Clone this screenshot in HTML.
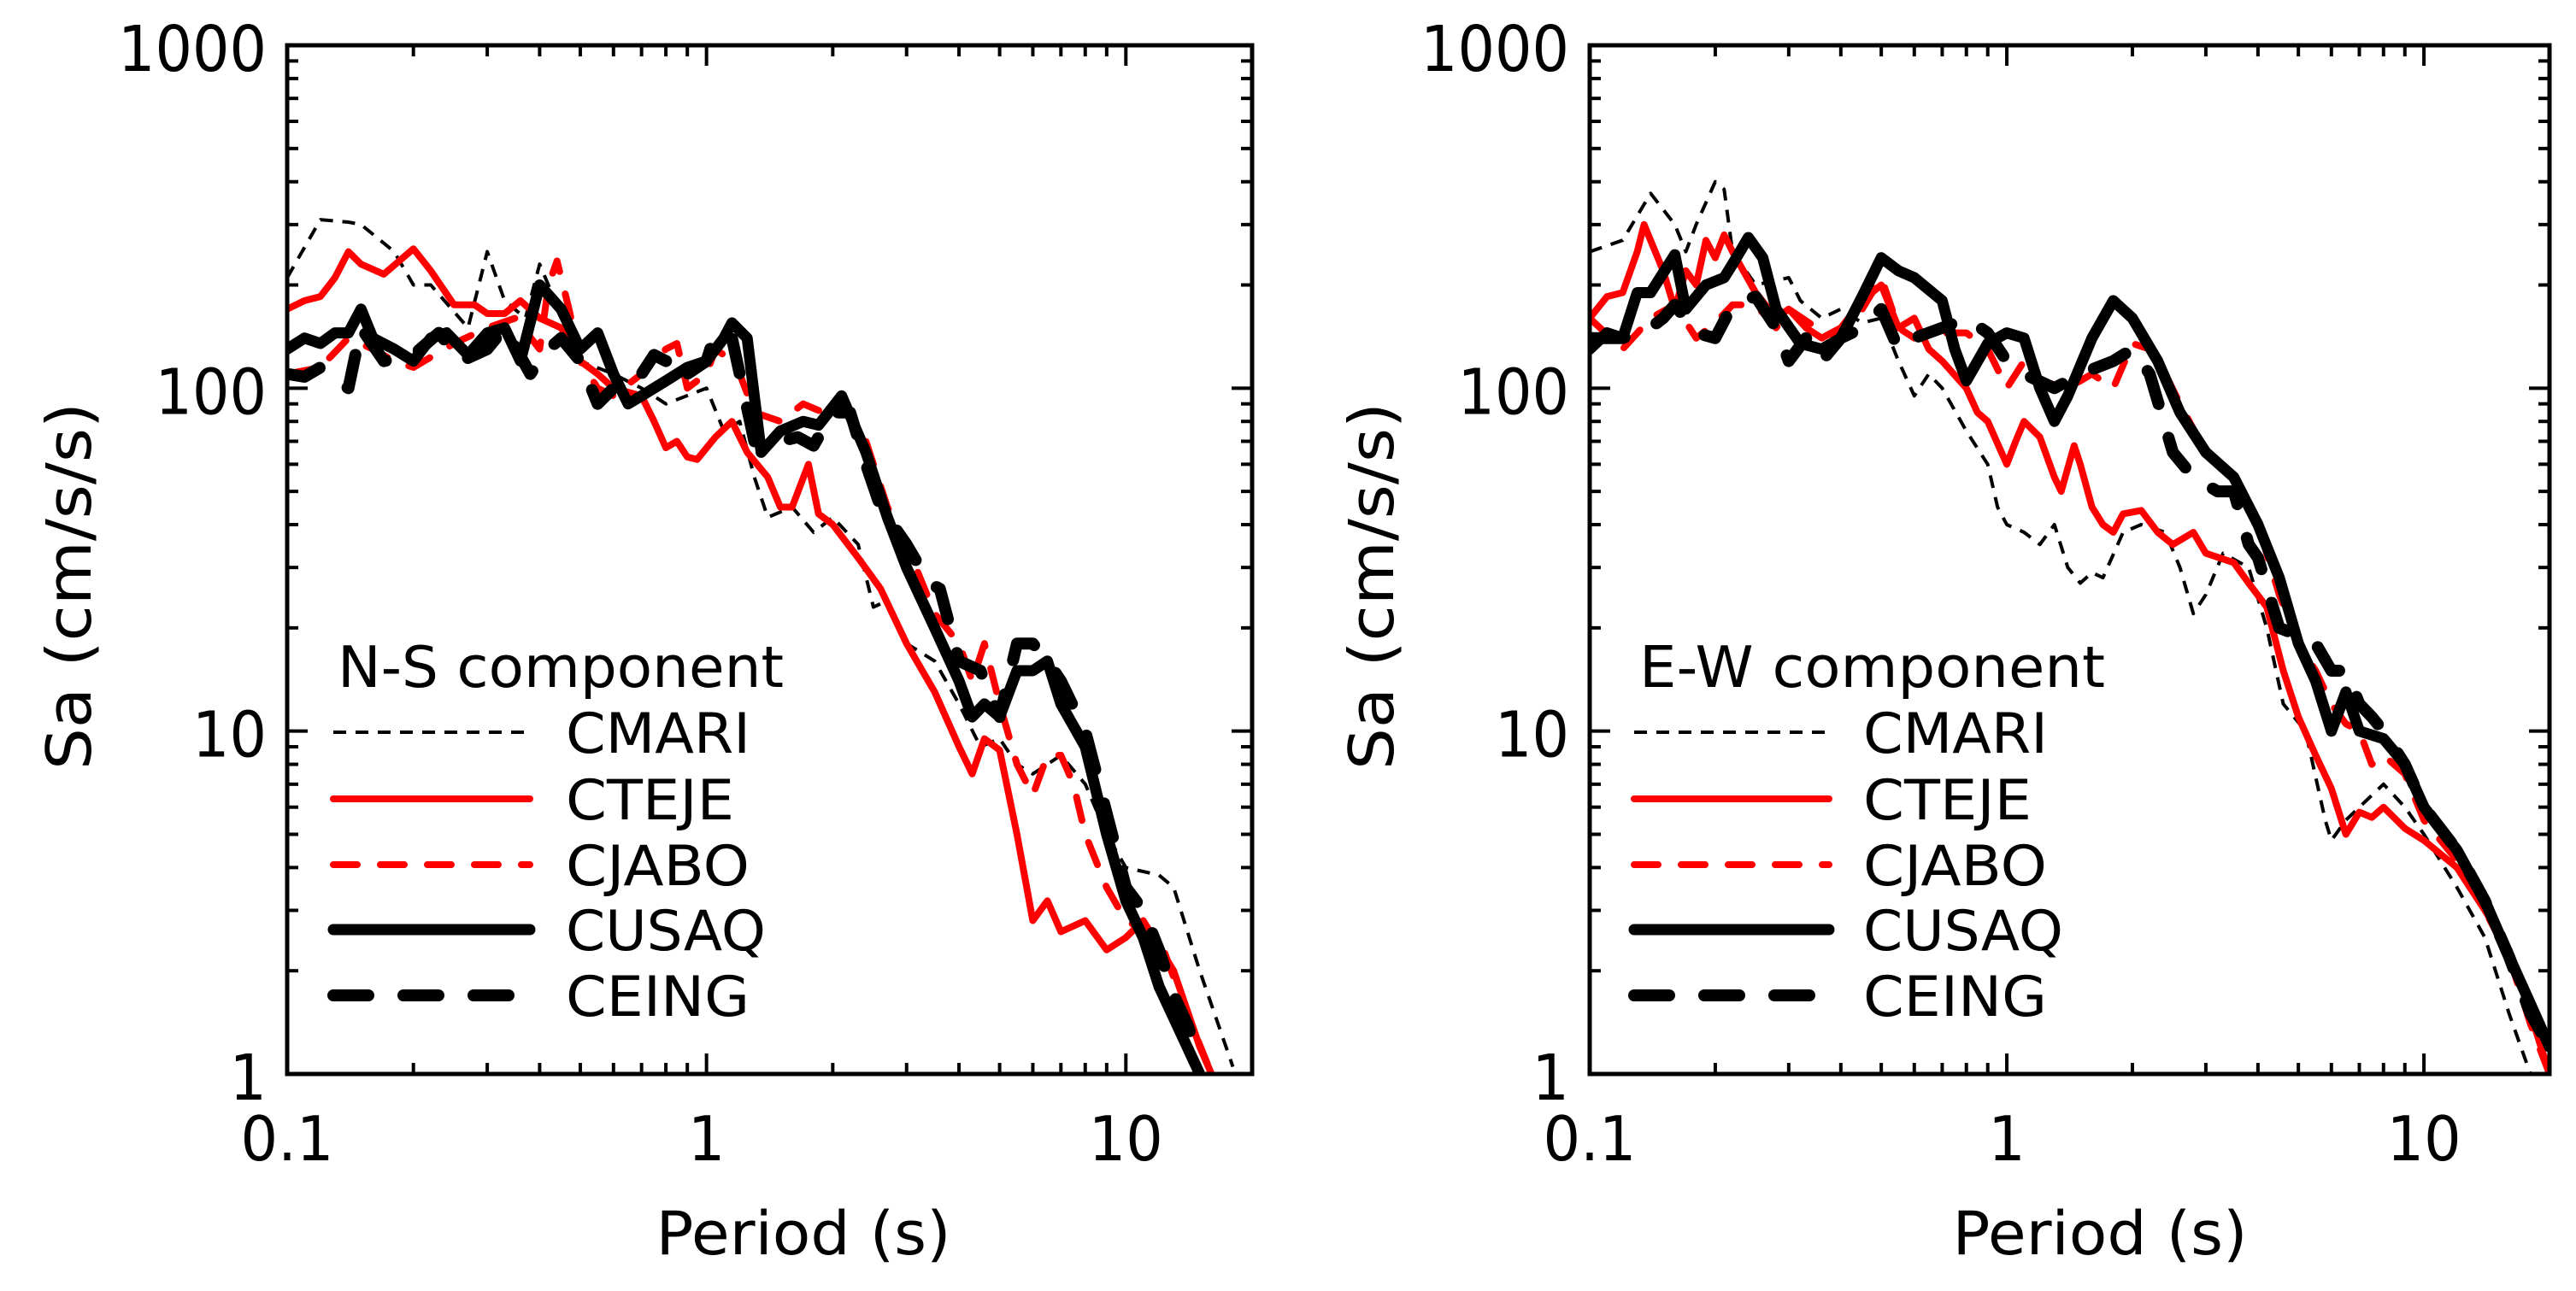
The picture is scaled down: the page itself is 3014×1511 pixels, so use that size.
<!DOCTYPE html>
<html><head><meta charset="utf-8"><style>
html,body{margin:0;padding:0;background:#fff}
svg{display:block}
text{font-family:"DejaVu Sans","Liberation Sans",sans-serif;fill:#000}
</style></head><body>
<svg id="chart" width="3014" height="1511" viewBox="0 0 3014 1511" xmlns="http://www.w3.org/2000/svg"></svg>
<script>
const xTickLabels = ["0.1","1","10"];
const yTickLabels = ["1","10","100","1000"];
const seriesNames = ["CMARI","CTEJE","CJABO","CUSAQ","CEING"];

const nsCMARI_T = [0.1,0.12,0.14,0.15,0.18,0.2,0.22,0.27,0.3,0.33,0.37,0.4,0.5,0.6,0.7,0.8,1.0,1.1,1.2,1.3,1.4,1.6,1.8,2.0,2.3,2.5,2.7,3.0,3.5,4,4.5,5,5.5,6,7,8,9,10,12,13,15,18];
const nsCMARI_V = [210,310,305,300,250,200,200,150,250,180,160,230,120,110,100,90,100,75,80,55,42,45,38,42,35,23,24,18,16,12,9,9.5,8,7.5,8.5,7,5,4,3.8,3.5,2,1.05];
const nsCTEJE_T = [0.1,0.11,0.12,0.13,0.14,0.15,0.17,0.2,0.22,0.25,0.28,0.3,0.33,0.36,0.4,0.45,0.5,0.55,0.6,0.7,0.75,0.8,0.85,0.9,0.95,1.05,1.15,1.25,1.4,1.5,1.6,1.75,1.85,2.0,2.3,2.6,3.0,3.5,4.0,4.3,4.6,5.0,5.5,6.0,6.5,7,8,9,10,11,13,15,16];
const nsCTEJE_V = [170,180,185,210,250,230,215,255,220,175,175,165,165,180,160,150,120,110,100,95,80,67,70,63,62,72,80,65,55,45,45,60,43,40,32,26,18,13,9,7.5,9.5,8.8,5,2.8,3.2,2.6,2.8,2.3,2.5,2.8,2,1.2,1.0];
const nsCJABO_T = [0.1,0.12,0.14,0.16,0.18,0.2,0.25,0.3,0.35,0.4,0.42,0.44,0.47,0.5,0.55,0.6,0.7,0.8,0.85,0.9,1.0,1.05,1.1,1.2,1.3,1.5,1.7,1.9,2.1,2.4,2.7,3.0,3.5,4,4.3,4.6,5,5.5,6,6.5,7,7.5,8,9,10,12,14,16];
const nsCJABO_V = [110,115,140,130,120,115,135,150,160,130,200,235,170,120,100,95,110,130,135,100,110,130,125,110,85,80,90,85,90,70,45,35,22,18,14,18,12,8,6.5,8.5,8.5,7,5,3.5,2.8,2.5,1.5,1.0];
const nsCUSAQ_T = [0.1,0.11,0.12,0.13,0.14,0.15,0.16,0.18,0.2,0.22,0.24,0.27,0.3,0.33,0.36,0.4,0.45,0.5,0.55,0.6,0.65,0.7,0.8,0.9,1.0,1.1,1.15,1.25,1.35,1.5,1.7,1.85,2.1,2.4,2.7,3.0,3.5,4,4.3,4.6,5,5.5,6,6.5,7,8,9,10,11,12,14,15];
const nsCUSAQ_V = [130,140,135,145,145,170,140,130,120,140,145,125,145,150,120,200,170,130,145,110,90,95,105,115,120,140,155,140,65,75,80,78,95,65,42,30,20,14,11,12,11,15,15,16,12,9,5,3.2,2.5,1.8,1.2,1.0];
const nsCEING_T = [0.1,0.11,0.12,0.13,0.14,0.15,0.17,0.2,0.23,0.26,0.3,0.33,0.38,0.42,0.45,0.5,0.55,0.6,0.7,0.75,0.8,0.85,0.9,1.0,1.05,1.15,1.3,1.5,1.65,1.8,2.0,2.2,2.4,2.6,3,3.4,3.6,4,4.5,5,5.5,6,6.5,7,8,10,11,12,13,14,15];
const nsCEING_V = [110,108,115,105,100,150,120,125,145,120,130,150,110,130,140,120,90,100,110,125,120,125,110,120,145,140,70,70,72,68,85,85,60,45,35,27,26,16,15,11,18,18,16,14,10,3.5,3,2.3,1.7,1.4,1.1];

const ewCMARI_T = [0.1,0.12,0.14,0.16,0.17,0.18,0.2,0.21,0.22,0.25,0.3,0.32,0.36,0.4,0.45,0.5,0.55,0.6,0.65,0.7,0.8,0.9,0.95,1.0,1.1,1.2,1.3,1.4,1.5,1.6,1.7,1.9,2.1,2.4,2.6,2.8,3.0,3.3,3.8,4.2,4.6,5.2,5.8,6,6.5,7,8,9,10,12,14,16,18];
const ewCMARI_V = [250,270,370,300,250,300,400,380,250,200,210,180,160,170,155,160,120,95,110,100,75,60,45,40,38,35,40,30,27,29,28,38,40,38,30,22,25,33,30,20,12,10,5.5,4.8,5.5,6,7,6,5,3.5,2.5,1.5,1.0];
const ewCTEJE_T = [0.1,0.11,0.12,0.13,0.135,0.15,0.16,0.17,0.18,0.19,0.2,0.21,0.22,0.25,0.28,0.3,0.33,0.36,0.4,0.45,0.5,0.55,0.6,0.65,0.7,0.8,0.85,0.9,1.0,1.05,1.1,1.2,1.3,1.35,1.45,1.5,1.6,1.7,1.8,1.9,2.1,2.3,2.5,2.8,3.0,3.5,3.8,4.2,4.6,5,5.5,6,6.5,7,7.5,8,9,10,12,14,16,18,20];
const ewCTEJE_V = [160,185,190,250,300,220,170,220,200,270,240,280,250,190,160,170,150,140,150,180,200,150,160,130,120,100,85,80,60,70,80,72,55,50,68,60,45,40,38,43,44,38,35,38,33,31,27,23,15,11,8.5,6.8,5.0,5.8,5.6,6.0,5.2,4.8,4.0,3.0,2.3,1.5,1.0];
const ewCJABO_T = [0.1,0.12,0.14,0.16,0.18,0.2,0.22,0.25,0.28,0.3,0.35,0.4,0.45,0.5,0.55,0.6,0.7,0.8,0.9,1.0,1.1,1.2,1.4,1.6,1.8,2.0,2.2,2.4,2.6,3.0,3.5,4,4.5,5,5.5,6,6.5,7,7.5,8,9,10,12,14,16,18,20];
const ewCJABO_V = [160,130,160,175,140,155,175,175,150,170,150,140,170,210,150,140,145,145,130,100,120,105,100,110,100,135,130,110,90,65,55,40,25,18,15,12,10.5,10,8,8.5,7.5,5.5,4.2,3.0,2.2,1.4,1.0];
const ewCUSAQ_T = [0.1,0.11,0.12,0.13,0.14,0.16,0.17,0.19,0.21,0.22,0.24,0.26,0.28,0.32,0.36,0.4,0.45,0.5,0.55,0.6,0.7,0.75,0.8,0.9,1.0,1.1,1.2,1.3,1.4,1.6,1.8,2.0,2.3,2.6,3.0,3.5,4,4.5,5,5.5,6,6.5,7,8,9,10,12,14,16,18,20];
const ewCUSAQ_V = [130,145,140,190,190,245,170,200,210,230,275,240,170,135,130,140,185,240,220,210,180,130,105,135,145,140,100,80,95,140,180,160,120,85,65,55,40,28,18,14,10,13,10,9.5,8,6,4.5,3.2,2.2,1.6,1.2];
const ewCEING_T = [0.1,0.12,0.14,0.15,0.16,0.18,0.2,0.22,0.25,0.28,0.3,0.33,0.36,0.4,0.45,0.5,0.55,0.6,0.7,0.8,0.9,1.0,1.1,1.3,1.5,1.8,2.0,2.2,2.5,2.8,3.2,3.5,3.8,4,4.5,5,5.5,6,6.5,7,7.5,8,9,10,12,14,16,18,20];
const ewCEING_V = [140,140,150,160,175,145,140,175,185,150,120,140,120,140,150,170,130,140,150,160,145,120,110,100,110,120,130,110,65,55,50,50,35,32,20,19,18,15,15,12,11,10,8,6,4.5,3.2,2.2,1.5,1.2];

const styles = [
  {color:"#000", w:4, dash:"15 11", cap:"butt"},
  {color:"#ff0000", w:8, dash:null, cap:"round"},
  {color:"#ff0000", w:8, dash:"28 27", cap:"round"},
  {color:"#000", w:13, dash:null, cap:"round"},
  {color:"#000", w:14, dash:"41 41", cap:"round"}
];
const legendWidths = [216,197,215,234,215];

const NS = "http://www.w3.org/2000/svg";
const svg = document.getElementById('chart');
function mk(tag, attrs, parent){
  const e = document.createElementNS(NS, tag);
  for (const k in attrs) e.setAttribute(k, attrs[k]);
  (parent||svg).appendChild(e);
  return e;
}
function tickW(l){ let w=0; for (const c of l) w += (c==='.') ? 22 : 43.5; return w; }

function drawPanel(p){
  const g = mk('g', {});
  
  
  const xmin = Math.log10(0.1), xmax = Math.log10(20);
  const X = v => p.left + (Math.log10(v) - xmin) / (xmax - xmin) * p.w;
  const Y = v => p.top + p.h - Math.log10(v) / 3 * p.h;
  const clipId = 'clip-' + p.name;
  const cp = mk('clipPath', {id: clipId}, g);
  mk('rect', {x:p.left, y:p.top, width:p.w, height:p.h}, cp);

  const sg = mk('g', {'clip-path':'url(#'+clipId+')'}, g);
  p.series.forEach((s, i) => {
    const st = styles[i];
    const d = s.T.map((t, j) => (j ? 'L' : 'M') + X(t).toFixed(1) + ' ' + Y(s.V[j]).toFixed(1)).join(' ');
    const path = mk('path', {d:d, fill:'none', stroke:st.color, 'stroke-width':st.w, 'stroke-linejoin':'round', 'stroke-linecap':st.cap}, sg);
    if (st.dash) path.setAttribute('stroke-dasharray', st.dash);
    
    
  });

  const tg = mk('g', {stroke:'#000', 'stroke-width':4}, g);
  for (let dec = 0; dec < 3; dec++) {
    for (let m = 1; m <= 9; m++) {
      const y = Y(Math.pow(10, dec) * m);
      const L = m === 1 ? 24 : 13;
      mk('line', {x1:p.left, x2:p.left+L, y1:y, y2:y}, tg);
      mk('line', {x1:p.left+p.w, x2:p.left+p.w-L, y1:y, y2:y}, tg);
    }
  }
  for (let dec = -1; dec <= 1; dec++) {
    for (let m = 1; m <= 9; m++) {
      const v = Math.pow(10, dec) * m;
      if (v > 20) continue;
      const x = X(v);
      const L = m === 1 ? 24 : 13;
      mk('line', {x1:x, x2:x, y1:p.top+p.h, y2:p.top+p.h-L}, tg);
      mk('line', {x1:x, x2:x, y1:p.top, y2:p.top+L}, tg);
    }
  }
  const frame = mk('rect', {x:p.left, y:p.top, width:p.w, height:p.h, fill:'none', stroke:'#000', 'stroke-width':5}, g);
  
  

  yTickLabels.forEach(l => {
    const t = mk('text', {x:p.left-24, y:Y(+l)+30, 'text-anchor':'end', 'font-size':74, textLength:tickW(l), lengthAdjust:'spacingAndGlyphs'}, g);
    t.textContent = l;
    
    
  });
  xTickLabels.forEach(l => {
    const t = mk('text', {x:X(+l), y:1358, 'text-anchor':'middle', 'font-size':72, textLength:tickW(l), lengthAdjust:'spacingAndGlyphs'}, g);
    t.textContent = l;
    
    
  });
  const xt = mk('text', {x:p.xTitleX, y:1468, 'text-anchor':'middle', 'font-size':70, textLength:345, lengthAdjust:'spacingAndGlyphs'}, g);
  xt.textContent = 'Period (s)';
  
  
  const yt = mk('text', {x:0, y:0, 'text-anchor':'middle', 'font-size':72, textLength:430, lengthAdjust:'spacingAndGlyphs', transform:'translate('+p.yTitleX+',686) rotate(-90)'}, g);
  yt.textContent = 'Sa (cm/s/s)';
  
  

  const lg = mk('g', {}, g);
  
  
  const lt = mk('text', {x:p.legX, y:804, 'font-size':67, textLength:p.legTitleW, lengthAdjust:'spacingAndGlyphs'}, lg);
  lt.textContent = p.legTitle;
  
  
  const ly = [857, 935, 1012, 1088, 1165];
  seriesNames.forEach((n, i) => {
    const st = styles[i];
    const ln = mk('line', {x1:p.legLine[0], x2:p.legLine[1], y1:ly[i], y2:ly[i], stroke:st.color, 'stroke-width':st.w, 'stroke-linecap':st.cap}, lg);
    if (st.dash) ln.setAttribute('stroke-dasharray', st.dash);
    
    
    const tx = mk('text', {x:p.legText, y:ly[i]+24, 'font-size':65, textLength:legendWidths[i], lengthAdjust:'spacingAndGlyphs'}, lg);
    tx.textContent = n;
    
    
  });
}

drawPanel({name:'ns-panel', left:336, top:53, w:1129, h:1204, xTitleX:940, yTitleX:106,
  legX:395, legTitle:'N-S component', legTitleW:522, legLine:[390,620], legText:662,
  series:[{T:nsCMARI_T,V:nsCMARI_V},{T:nsCTEJE_T,V:nsCTEJE_V},{T:nsCJABO_T,V:nsCJABO_V},{T:nsCUSAQ_T,V:nsCUSAQ_V},{T:nsCEING_T,V:nsCEING_V}]});
drawPanel({name:'ew-panel', left:1860, top:53, w:1123, h:1204, xTitleX:2457, yTitleX:1630,
  legX:1918, legTitle:'E-W  component', legTitleW:545, legLine:[1912,2140], legText:2180,
  series:[{T:ewCMARI_T,V:ewCMARI_V},{T:ewCTEJE_T,V:ewCTEJE_V},{T:ewCJABO_T,V:ewCJABO_V},{T:ewCUSAQ_T,V:ewCUSAQ_V},{T:ewCEING_T,V:ewCEING_V}]});
</script>
</body></html>
